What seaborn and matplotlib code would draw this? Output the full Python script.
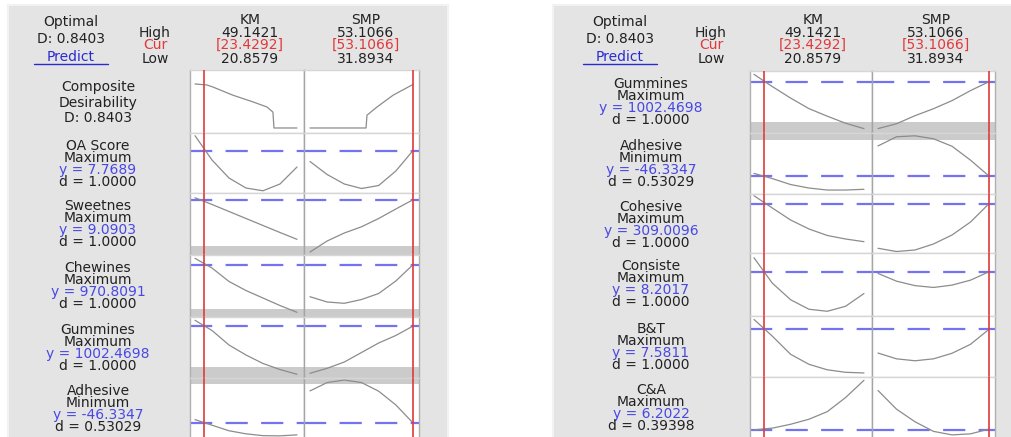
import matplotlib.pyplot as plt
from matplotlib.lines import Line2D
import seaborn as sns

# factor settings (Low / Cur / High)
km_low, km_cur, km_high = 20.8579, 23.4292, 49.1421
smp_low, smp_cur, smp_high = 31.8934, 53.1066, 53.1066
smp_low, smp_high = 31.8934, 53.1066
km_x = [20.8579, 25.5719, 30.2859, 35.0000, 39.7140, 44.4281, 49.1421]
smp_x = [31.8934, 35.4289, 38.9644, 42.5000, 46.0355, 49.5711, 53.1066]

# composite desirability (D = 0.8403)
comp_km_x = [20.8579, 24.19, 25.85, 31.40, 36.94, 40.82, 42.48, 42.76, 49.1421]
comp_km = [0.86, 0.84, 0.80, 0.64, 0.51, 0.41, 0.31, 0.0, 0.0]
comp_smp_x = [31.8934, 43.43, 43.63, 45.69, 48.99, 52.69, 53.1066]
comp_smp = [0.0, 0.0, 0.25, 0.41, 0.64, 0.83, 0.85]

# left panel responses (heights, 0 = row bottom, 1 = row top)
left_names = ["OA Score", "Sweetnes", "Chewines", "Gummines", "Adhesive"]
left_goals = ["Maximum", "Maximum", "Maximum", "Maximum", "Minimum"]
left_yvals = ["7.7689", "9.0903", "970.8091", "1002.4698", "-46.3347"]
left_dvals = ["1.0000", "1.0000", "1.0000", "1.0000", "0.53029"]
left_targets = [0.705, 0.892, 0.844, 0.852, 0.339]
oa_km = [0.955, 0.55, 0.25, 0.083, 0.037, 0.15, 0.433]
oa_smp = [0.525, 0.308, 0.15, 0.075, 0.125, 0.367, 0.708]
sweet_km = [0.924, 0.815, 0.702, 0.589, 0.476, 0.363, 0.253]
sweet_smp = [0.048, 0.226, 0.355, 0.455, 0.589, 0.742, 0.892]
chew_km = [0.946, 0.79, 0.573, 0.427, 0.306, 0.185, 0.076]
chew_smp = [0.327, 0.242, 0.221, 0.282, 0.379, 0.581, 0.844]
gum_km_l = [0.946, 0.779, 0.541, 0.377, 0.238, 0.139, 0.061]
gum_smp_l = [0.077, 0.159, 0.262, 0.418, 0.574, 0.697, 0.852]
adh_km_l = [0.388, 0.306, 0.224, 0.179, 0.152, 0.149, 0.164]
adh_smp_l = [0.81, 0.933, 0.97, 0.933, 0.806, 0.604, 0.339]

# right panel responses
right_names = ["Gummines", "Adhesive", "Cohesive", "Consiste", "B&T", "C&A"]
right_goals = ["Maximum", "Minimum", "Maximum", "Maximum", "Maximum", "Maximum"]
right_yvals = ["1002.4698", "-46.3347", "309.0096", "8.2017", "7.5811", "6.2022"]
right_dvals = ["1.0000", "0.53029", "1.0000", "1.0000", "1.0000", "0.39398"]
right_targets = [0.827, 0.294, 0.836, 0.702, 0.782, 0.239]
gum_km_r = [0.946, 0.749, 0.563, 0.393, 0.271, 0.157, 0.071]
gum_smp_r = [0.071, 0.149, 0.279, 0.392, 0.522, 0.684, 0.827]
adh_km_r = [0.338, 0.253, 0.155, 0.098, 0.065, 0.065, 0.077]
adh_smp_r = [0.788, 0.938, 0.954, 0.905, 0.783, 0.555, 0.294]
coh_km = [0.971, 0.763, 0.559, 0.407, 0.297, 0.237, 0.192]
coh_smp = [0.08, 0.025, 0.051, 0.153, 0.305, 0.525, 0.836]
cons_km = [0.925, 0.522, 0.258, 0.107, 0.075, 0.155, 0.357]
cons_smp = [0.676, 0.553, 0.482, 0.453, 0.49, 0.569, 0.702]
bt_km = [0.944, 0.67, 0.372, 0.208, 0.118, 0.077, 0.066]
bt_smp = [0.393, 0.298, 0.266, 0.298, 0.389, 0.536, 0.782]
ca_km = [0.234, 0.259, 0.315, 0.388, 0.498, 0.703, 0.952]
ca_smp = [0.805, 0.534, 0.351, 0.212, 0.161, 0.176, 0.245]

left_km = [oa_km, sweet_km, chew_km, gum_km_l, adh_km_l]
left_smp = [oa_smp, sweet_smp, chew_smp, gum_smp_l, adh_smp_l]
right_km = [gum_km_r, adh_km_r, coh_km, cons_km, bt_km, ca_km]
right_smp = [gum_smp_r, adh_smp_r, coh_smp, cons_smp, bt_smp, ca_smp]

sns.set_style("white")
plt.rcParams["font.family"] = ["DejaVu Sans"]

W, H = 1012, 437
fig = plt.figure(figsize=(W / 100, H / 100), dpi=100)

BG = "#e4e4e4"
CURVE = "#8c8c8c"
RED = "#e2383a"
DASH = "#7373f0"
BLUE = "#4848e4"
FS = 10


def fbox(x0, y0, x1, y1):
    return [x0 / W, 1 - y1 / H, (x1 - x0) / W, (y1 - y0) / H]


def ftext(x, y, s, **kw):
    kw.setdefault("fontsize", FS)
    kw.setdefault("color", "#222222")
    fig.text(x / W, 1 - y / H, s, ha="center", va="center", **kw)


def background(x0, x1):
    ax = fig.add_axes(fbox(x0, 5, x1, H + 2), zorder=0)
    ax.set_facecolor(BG)
    ax.set_xticks([])
    ax.set_yticks([])
    for s in ax.spines.values():
        s.set_color("#f2f2f2")
        s.set_linewidth(1.5)


def add_row(cols, top, bot, kvals, svals, target=None, bands=(), ylim=(0, 1), kx=km_x, sx=smp_x, pads=None):
    x0, xm, x1 = cols
    specs = [(x0, xm, kx, kvals, km_low, km_high, km_cur, pads[0]),
             (xm, x1, sx, svals, smp_low, smp_high, smp_cur, pads[1])]
    for a, b, xs, ys, lo, hi, cur, pad in specs:
        ax = fig.add_axes(fbox(a, top, b, bot), zorder=2)
        ax.set_facecolor("white")
        r = hi - lo
        ax.set_xlim(lo - pad[0] * r, hi + pad[1] * r)
        ax.set_ylim(*ylim)
        span = ylim[1] - ylim[0]
        for p0, p1 in bands:
            q0, q1 = max(p0, top), min(p1, bot)
            if q1 > q0:
                yb = ylim[0] + (bot - q1) / (bot - top) * span
                yt = ylim[0] + (bot - q0) / (bot - top) * span
                ax.axhspan(yb, yt, color="#cbcbcb", lw=0, zorder=0.5)
        if target is not None:
            ax.axhline(target, color=DASH, lw=1.6, dashes=(10, 6), zorder=1)
        sns.lineplot(x=xs, y=ys, ax=ax, color=CURVE, lw=0.9, zorder=2)
        ax.axvline(cur, color=RED, lw=1.2, zorder=3)
        ax.set_xticks([])
        ax.set_yticks([])
        ax.set_xlabel("")
        ax.set_ylabel("")
        for s in ax.spines.values():
            s.set_color("#d6d6d6")
            s.set_linewidth(1.0)
        ax.spines["left"].set_color("#b0b0b0" if a == x0 else "#a4a4a4")
        ax.spines["right"].set_color("#a4a4a4" if a == x0 else "#b0b0b0")


def header(lab_x, hl_x, km_cx, smp_cx):
    ftext(lab_x, 22, "Optimal")
    ftext(lab_x, 39, "D: 0.8403")
    ftext(lab_x, 57, "Predict", color="#2a2ad2")
    fig.add_artist(Line2D([(lab_x - 37) / W, (lab_x + 37) / W], [1 - 64 / H] * 2, color="#2a2ad2", lw=1))
    ftext(hl_x, 33, "High")
    ftext(hl_x, 45, "Cur", color=RED)
    ftext(hl_x, 59, "Low")
    ftext(km_cx, 20, "KM")
    ftext(km_cx, 33, f"{km_high:.4f}")
    ftext(km_cx, 45, f"[{km_cur:.4f}]", color=RED)
    ftext(km_cx, 59, f"{km_low:.4f}")
    ftext(smp_cx, 20, "SMP")
    ftext(smp_cx, 33, f"{smp_high:.4f}")
    ftext(smp_cx, 45, f"[{smp_cur:.4f}]", color=RED)
    ftext(smp_cx, 59, f"{smp_low:.4f}")


def row_label(cx, top, name, goal, yv, dv):
    ftext(cx, top + 13, name)
    ftext(cx, top + 25, goal)
    ftext(cx, top + 37, "y = " + yv, color=BLUE)
    ftext(cx, top + 49, "d = " + dv)


# ---------------- left panel ----------------
background(8, 448)
header(71, 155, 250, 366)
left_cols = (190, 304, 419)
left_pads = [(0.049, 0.069), (0.058, 0.058)]
left_edges = [70, 133, 193, 255, 317, 378, 446]
left_bands = [(246, 255), (309, 317), (367, 384)]

add_row(left_cols, left_edges[0], left_edges[1], comp_km, comp_smp, ylim=(-0.098, 1.133),
        kx=comp_km_x, sx=comp_smp_x, pads=left_pads)
ftext(98, 87, "Composite")
ftext(98, 103, "Desirability")
ftext(98, 118, "D: 0.8403")
for i in range(len(left_names)):
    add_row(left_cols, left_edges[i + 1], left_edges[i + 2], left_km[i], left_smp[i],
            target=left_targets[i], bands=left_bands, pads=left_pads)
    row_label(98, left_edges[i + 1], left_names[i], left_goals[i], left_yvals[i], left_dvals[i])

# ---------------- right panel ----------------
background(553, 1014)
header(620, 711, 813, 936)
right_cols = (750, 872, 995)
right_pads = [(0.036, 0.073), (0.054, 0.054)]
right_edges = [71, 133, 194, 253, 316, 377, 446]
right_bands = [(122, 140)]
for i in range(len(right_names)):
    add_row(right_cols, right_edges[i], right_edges[i + 1], right_km[i], right_smp[i],
            target=right_targets[i], bands=right_bands, pads=right_pads)
    row_label(651, right_edges[i], right_names[i], right_goals[i], right_yvals[i], right_dvals[i])

fig.savefig("out.png", dpi=100)
